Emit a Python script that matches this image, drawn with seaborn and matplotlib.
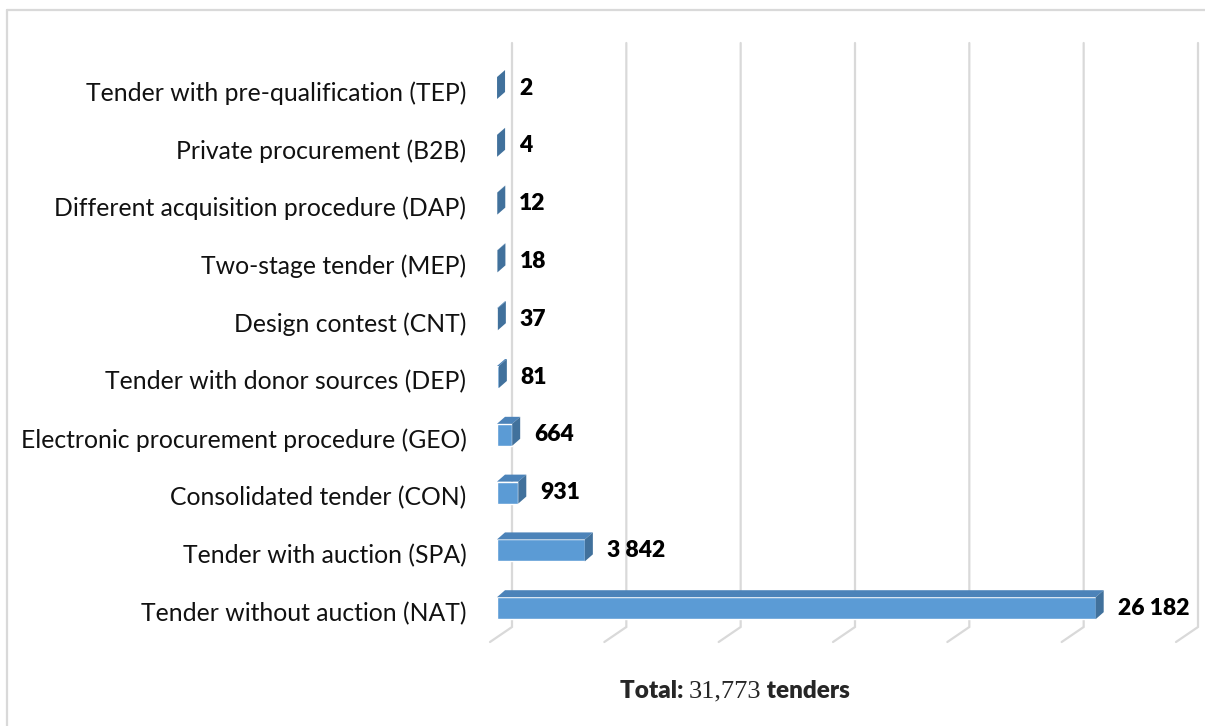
import matplotlib
matplotlib.use("Agg")
import matplotlib.pyplot as plt
from matplotlib.lines import Line2D
from matplotlib.patches import Polygon
from matplotlib.transforms import IdentityTransform, ScaledTranslation
import pandas as pd
import seaborn as sns

# data, top row first
procedures = [
    "Tender with pre-qualification (TEP)",
    "Private procurement (B2B)",
    "Different acquisition procedure (DAP)",
    "Two-stage tender (MEP)",
    "Design contest (CNT)",
    "Tender with donor sources (DEP)",
    "Electronic procurement procedure (GEO)",
    "Consolidated tender (CON)",
    "Tender with auction (SPA)",
    "Tender without auction (NAT)",
]
tenders = [2, 4, 12, 18, 37, 81, 664, 931, 3842, 26182]
value_labels = ["2", "4", "12", "18", "37", "81", "664", "931", "3 842", "26 182"]
grid_values = [0, 5000, 10000, 15000, 20000, 25000, 30000]
total_count = "31,773"

W, H, DPI = 1205, 726, 100
FRONT = "#5B9BD5"
TOP = "#4C83B9"
SIDE = "#41719C"
GRID = "#D9D9D9"


def px_line(ax, pts, **kw):
    """Line in figure pixels, measured from the top-left corner."""
    xs = [p[0] for p in pts]
    ys = [H - p[1] for p in pts]
    ax.add_line(Line2D(xs, ys, transform=IdentityTransform(), clip_on=False, **kw))


sns.set_theme(style="white")
plt.rcParams["font.family"] = ["Lato", "DejaVu Sans"]

fig = plt.figure(figsize=(W / DPI, H / DPI), dpi=DPI)
ax = fig.add_axes([497 / W, 1 - 642 / H, 686 / W, 599 / H])

df = pd.DataFrame({"procedure": procedures, "tenders": tenders})
sns.barplot(data=df, x="tenders", y="procedure", orient="h", color=FRONT,
            saturation=1, width=0.38, ax=ax, zorder=3)

ax.set_xlim(0, 30000)
ax.set_ylim(9.585, -0.779)
ax.set_xticks([])
ax.set_xlabel("")
ax.set_ylabel("")
for s in ax.spines.values():
    s.set_visible(False)
ax.tick_params(axis="y", length=0, pad=22, labelsize=17.8, labelcolor="#111111")
# labels sit a touch lower than the bar centres
shift = ScaledTranslation(0, -3 / DPI, fig.dpi_scale_trans)
for lab in ax.get_yticklabels():
    lab.set_transform(lab.get_transform() + shift)

# back wall gridlines and floor
for v in grid_values:
    x = ax.transData.transform((v, 0))[0]
    px_line(ax, [(x + 15, 43), (x + 15, 627), (x - 7, 642)],
            color=GRID, lw=1.6, zorder=0.5, solid_joinstyle="miter")

# 3d faces on each bar
dx, dy = 8, 7
for bar in ax.patches:
    bb = bar.get_window_extent()
    x0, x1, yb, yt = bb.x0, bb.x1, bb.y0, bb.y1
    top = [(x0, yt), (x1, yt), (x1 + dx, yt + dy), (x0 + dx, yt + dy)]
    side = [(x1, yb), (x1 + dx, yb + dy), (x1 + dx, yt + dy), (x1, yt)]
    ax.add_patch(Polygon(top, closed=True, facecolor=TOP, edgecolor="none",
                         transform=IdentityTransform(), clip_on=False, zorder=4))
    ax.add_patch(Polygon(side, closed=True, facecolor=SIDE, edgecolor="none",
                         transform=IdentityTransform(), clip_on=False, zorder=4))

for i, (v, lab) in enumerate(zip(tenders, value_labels)):
    ax.annotate(lab, xy=(v, i), xytext=(22, 0), textcoords="offset pixels",
                ha="left", va="center", fontsize=16.5, fontweight="heavy",
                color="black", zorder=5)

# outer frame (only top and left show)
fig.add_artist(Line2D([7, W], [H - 10, H - 10], transform=IdentityTransform(),
                      color=GRID, lw=1.6))
fig.add_artist(Line2D([7, 7], [0, H - 10], transform=IdentityTransform(),
                      color=GRID, lw=1.6))

# footer: "Total: 31,773 tenders"
fig.canvas.draw()
r = fig.canvas.get_renderer()
yc = H - 691
t1 = fig.text(0, yc, "Total: ", transform=IdentityTransform(), fontsize=17.5,
              fontweight="heavy", va="center")
t2 = fig.text(0, yc, total_count, transform=IdentityTransform(), fontsize=19,
              family="Liberation Serif", va="center")
t3 = fig.text(0, yc, " tenders", transform=IdentityTransform(), fontsize=17.5,
              fontweight="heavy", va="center")
w1 = t1.get_window_extent(r).width
w2 = t2.get_window_extent(r).width
w3 = t3.get_window_extent(r).width
start = 735 - (w1 + w2 + w3) / 2
t1.set_x(start)
t2.set_x(start + w1)
t3.set_x(start + w1 + w2)

fig.savefig("out.png", dpi=DPI)
